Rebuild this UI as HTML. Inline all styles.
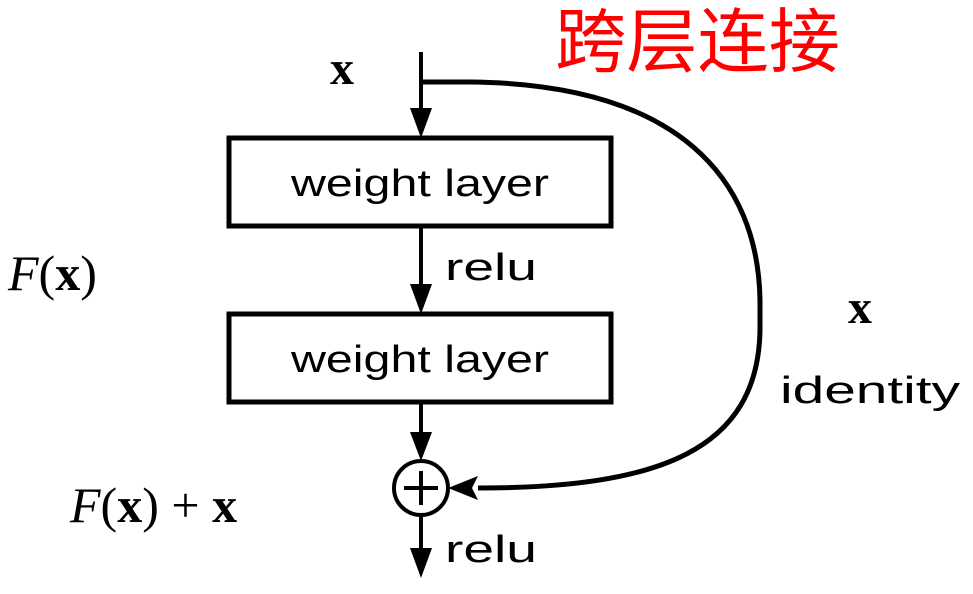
<!DOCTYPE html>
<html><head><meta charset="utf-8"><style>
html,body{margin:0;padding:0;background:#fff;}
svg{display:block;}
</style></head><body>
<svg width="973" height="594" viewBox="0 0 973 594" xmlns="http://www.w3.org/2000/svg">
<defs>
<marker id="a" markerWidth="10" markerHeight="10" refX="9" refY="5" orient="auto" markerUnits="userSpaceOnUse" viewBox="0 0 10 10">
</marker>
</defs>
<g stroke="#000" stroke-width="4" fill="none">
<line x1="421" y1="52" x2="421" y2="118"/>
<rect x="229" y="138" width="382" height="88" stroke-width="5"/>
<line x1="421" y1="226" x2="421" y2="294"/>
<rect x="229" y="314" width="382" height="88" stroke-width="5"/>
<line x1="421" y1="402" x2="421" y2="442"/>
<circle cx="421" cy="488" r="27"/>
<line x1="421" y1="515" x2="421" y2="558"/>
<path d="M421 82 L470 82 C680 84 758 180 760 300 L760 330 C758 450 660 488 478 488" stroke-width="5"/>
<line x1="404" y1="488" x2="438" y2="488" stroke-width="4"/>
<line x1="421" y1="471" x2="421" y2="505" stroke-width="4"/>
</g>
<g fill="#000">
<polygon points="410,108 432,108 421,138"/>
<polygon points="410,284 432,284 421,314"/>
<polygon points="410,432 432,432 421,461"/>
<polygon points="410,548 432,548 421,578"/>
<polygon points="448,488 478,476 472,488 478,500"/>
</g>
<g font-family="Liberation Sans, DejaVu Sans, sans-serif" font-size="38" fill="#000">
<text x="420" y="196" text-anchor="middle" textLength="258" lengthAdjust="spacingAndGlyphs">weight layer</text>
<text x="420" y="372" text-anchor="middle" textLength="258" lengthAdjust="spacingAndGlyphs">weight layer</text>
<text x="445" y="280" textLength="92" lengthAdjust="spacingAndGlyphs">relu</text>
<text x="445" y="562" textLength="92" lengthAdjust="spacingAndGlyphs">relu</text>
<text x="780" y="403" textLength="180" lengthAdjust="spacingAndGlyphs">identity</text>
</g>
<g font-family="Liberation Serif, DejaVu Serif, serif" fill="#000">
<text x="330" y="84" font-size="48" font-weight="bold">x</text>
<text x="848" y="323" font-size="48" font-weight="bold">x</text>
<text x="8" y="290" font-size="50"><tspan font-style="italic">F</tspan>(<tspan font-weight="bold">x</tspan>)</text>
<text x="70" y="522" font-size="50"><tspan font-style="italic">F</tspan>(<tspan font-weight="bold">x</tspan>) + <tspan font-weight="bold">x</tspan></text>
</g>
<text x="555" y="66" font-family="Liberation Sans, Noto Sans CJK SC, sans-serif" font-size="70" fill="#f00" textLength="285" lengthAdjust="spacingAndGlyphs">跨层连接</text>
</svg>
</body></html>
